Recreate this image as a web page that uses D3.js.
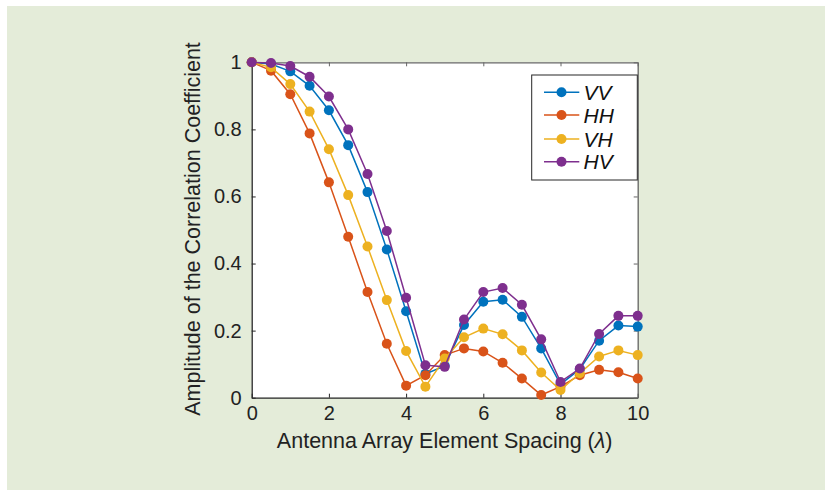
<!DOCTYPE html>
<html><head><meta charset="utf-8">
<script src="https://cdn.jsdelivr.net/npm/d3@7"></script>
<style>
html,body{margin:0;padding:0;background:#fff;}
svg{display:block;font-family:"Liberation Sans",Arial,Helvetica,sans-serif;}
</style></head>
<body>
<svg id="chart" width="825" height="490"></svg>
<script>
const spacing = [0,0.5,1,1.5,2,2.5,3,3.5,4,4.5,5,5.5,6,6.5,7,7.5,8,8.5,9,9.5,10];
const VV = [1.0,0.995,0.973,0.93,0.857,0.753,0.613,0.442,0.258,0.071,0.095,0.217,0.286,0.292,0.241,0.147,0.04,0.085,0.17,0.215,0.212];
const HH = [1.0,0.975,0.905,0.788,0.642,0.48,0.315,0.161,0.036,0.067,0.127,0.147,0.138,0.104,0.057,0.008,0.033,0.067,0.083,0.076,0.057];
const VH = [1.0,0.985,0.935,0.853,0.741,0.604,0.451,0.291,0.139,0.033,0.117,0.18,0.206,0.189,0.141,0.075,0.023,0.073,0.123,0.141,0.127];
const HV = [1.0,0.998,0.989,0.957,0.898,0.80,0.667,0.497,0.298,0.097,0.092,0.233,0.315,0.327,0.277,0.174,0.047,0.087,0.19,0.244,0.244];
const seriesNames = ["VV","HH","VH","HV"];
const seriesColors = ["#0072BD","#D95319","#EDB120","#7E2F8E"];
const xTicks = [0,2,4,6,8,10];
const yTicks = [0,0.2,0.4,0.6,0.8,1];
const yTickLabels = ["0","0.2","0.4","0.6","0.8","1"];

const svg = d3.select("#chart");
svg.append("rect").attr("x",7).attr("y",6).attr("width",818).attr("height",484).attr("fill","#e4ecd9");

const L=251.7, R=637.7, T=62.3, B=397.7;
const x = d3.scaleLinear().domain([0,10]).range([L,R]);
const y = d3.scaleLinear().domain([0,1]).range([B,T]);

svg.append("rect").attr("x",L).attr("y",T).attr("width",R-L).attr("height",B-T).attr("fill","#fff");

const axisColor="#262626";
const tickLen=4;
const xb = svg.append("g").attr("transform",`translate(0,${B})`)
  .call(d3.axisBottom(x).tickValues(xTicks).tickFormat(d3.format("d")).tickSizeInner(-tickLen).tickSizeOuter(0).tickPadding(8));
const xt = svg.append("g").attr("transform",`translate(0,${T})`)
  .call(d3.axisTop(x).tickValues(xTicks).tickFormat("").tickSizeInner(-tickLen).tickSizeOuter(0));
const yl = svg.append("g").attr("transform",`translate(${L},0)`)
  .call(d3.axisLeft(y).tickValues(yTicks).tickFormat((d,i)=>yTickLabels[i]).tickSizeInner(-tickLen).tickSizeOuter(0).tickPadding(10));
const yr = svg.append("g").attr("transform",`translate(${R},0)`)
  .call(d3.axisRight(y).tickValues(yTicks).tickFormat("").tickSizeInner(-tickLen).tickSizeOuter(0));
[xb,xt,yl,yr].forEach(g=>{
  g.selectAll("path").attr("stroke",axisColor).attr("stroke-width",1.3);
  g.selectAll("line").attr("stroke",axisColor).attr("stroke-width",1);
  g.selectAll("text").attr("fill","#222").attr("font-size",20).attr("font-family","Liberation Sans, Arial, sans-serif");
});
xt.selectAll("path").attr("stroke","#666");
yr.selectAll("path").attr("stroke","#666");
xt.selectAll("line").attr("stroke","#666");
yr.selectAll("line").attr("stroke","#666");

const allData=[VV,HH,VH,HV];
const line = d3.line().x((d,i)=>x(spacing[i])).y(d=>y(d));
allData.forEach((vals,k)=>{
  const g = svg.append("g");
  g.append("path").datum(vals).attr("d",line).attr("fill","none").attr("stroke",seriesColors[k]).attr("stroke-width",1.5);
  g.selectAll("circle").data(vals).enter().append("circle")
    .attr("cx",(d,i)=>x(spacing[i])).attr("cy",d=>y(d)).attr("r",5).attr("fill",seriesColors[k]);
});

// legend
const lg = svg.append("g");
lg.append("rect").attr("x",531.7).attr("y",75).attr("width",105.6).attr("height",105).attr("fill","#fff").attr("stroke","#262626").attr("stroke-width",1);
const ly=[92.3,115,139,161.7];
seriesNames.forEach((n,k)=>{
  lg.append("line").attr("x1",544).attr("x2",579.3).attr("y1",ly[k]).attr("y2",ly[k]).attr("stroke",seriesColors[k]).attr("stroke-width",1.5);
  lg.append("circle").attr("cx",561.5).attr("cy",ly[k]).attr("r",5).attr("fill",seriesColors[k]);
  lg.append("text").attr("x",583.5).attr("y",ly[k]).attr("dy","0.36em").attr("font-size",21).attr("font-style","italic").attr("fill","#111").text(n);
});

// axis labels
svg.append("text").attr("transform",`translate(200,229) rotate(-90)`).attr("text-anchor","middle")
  .attr("font-size",21.5).attr("fill","#222").text("Amplitude of the Correlation Coefficient");
const xl = svg.append("text").attr("x",444.7).attr("y",448).attr("text-anchor","middle").attr("font-size",21.5).attr("fill","#222");
xl.append("tspan").text("Antenna Array Element Spacing (");
xl.append("tspan").attr("font-style","italic").text("λ");
xl.append("tspan").text(")");
</script>
</body></html>
